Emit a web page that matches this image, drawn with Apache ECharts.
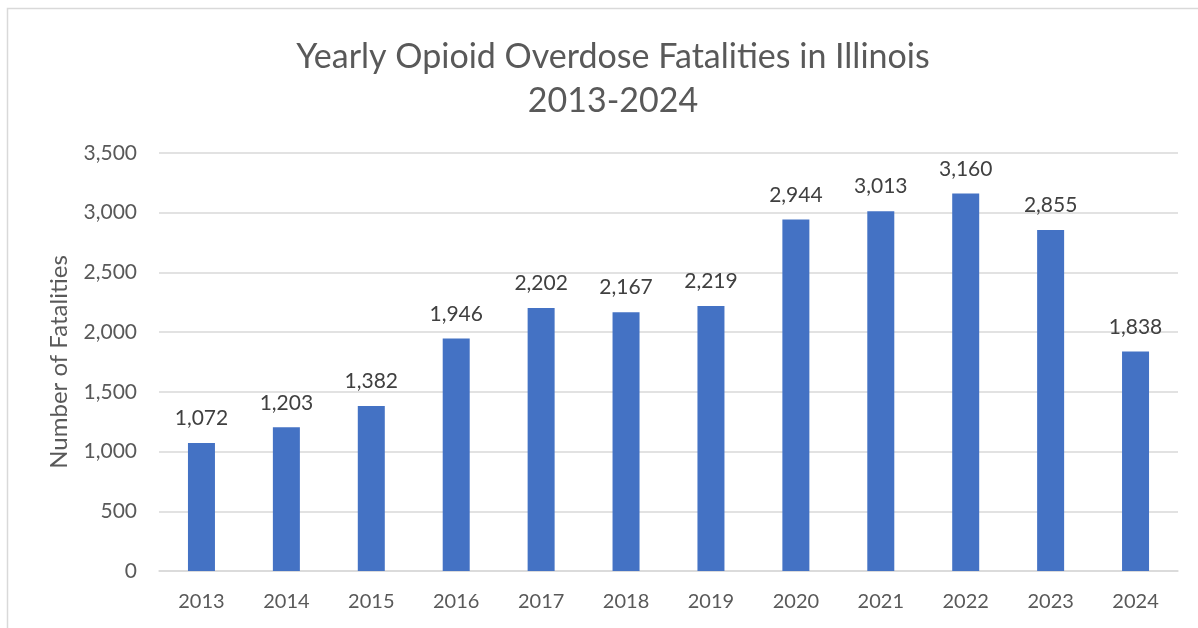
<!DOCTYPE html>
<html><head><meta charset="utf-8">
<script src="https://cdn.jsdelivr.net/npm/echarts@6/dist/echarts.min.js"></script>
<style>html,body{margin:0;padding:0;background:#fff}#c{width:1198px;height:628px}</style>
</head><body><div id="c"></div>
<script>
const years = ['2013','2014','2015','2016','2017','2018','2019','2020','2021','2022','2023','2024'];
const fatalities = [1072,1203,1382,1946,2202,2167,2219,2944,3013,3160,2855,1838];
const yTicks = {min:0, max:3500, interval:500};
const titleLines = ['Yearly Opioid Overdose Fatalities in Illinois','2013-2024'];
const yAxisName = 'Number of Fatalities';

const FONT = 'Lato, "Open Sans", sans-serif';
const chart = echarts.init(document.getElementById('c'));
chart.setOption({
  animation:false,
  backgroundColor:'#fff',
  graphic:[{type:'rect',shape:{x:7.5,y:8.5,width:1250,height:700},style:{fill:'none',stroke:'#d9d9d9',lineWidth:1.5},silent:true}],
  title:{text:titleLines.join('\n'),left:608,top:30,textAlign:'center',
    textStyle:{fontFamily:FONT,fontSize:34,fontWeight:'normal',color:'#595959',lineHeight:44}},
  grid:{left:159,right:20,top:153,bottom:57},
  xAxis:{type:'category',data:years,
    axisLine:{lineStyle:{color:'#d9d9d9',width:1.5}},axisTick:{show:false},
    axisLabel:{fontFamily:FONT,fontSize:20,color:'#595959',margin:21}},
  yAxis:{type:'value',min:yTicks.min,max:yTicks.max,interval:yTicks.interval,
    name:yAxisName,nameLocation:'middle',nameGap:88,
    nameTextStyle:{fontFamily:FONT,fontSize:24,color:'#595959'},
    axisLine:{show:false},axisTick:{show:false},
    splitLine:{lineStyle:{color:'#d9d9d9',width:1.5}},
    axisLabel:{fontFamily:FONT,fontSize:21,color:'#595959',margin:22,
      formatter:v=>v.toLocaleString('en-US')}},
  series:[{type:'bar',data:fatalities,barWidth:27,
    itemStyle:{color:'#4472C4'},
    label:{show:true,position:'top',distance:14,fontFamily:FONT,fontSize:21,color:'#404040',
      formatter:p=>p.value.toLocaleString('en-US')}}]
});
</script></body></html>
